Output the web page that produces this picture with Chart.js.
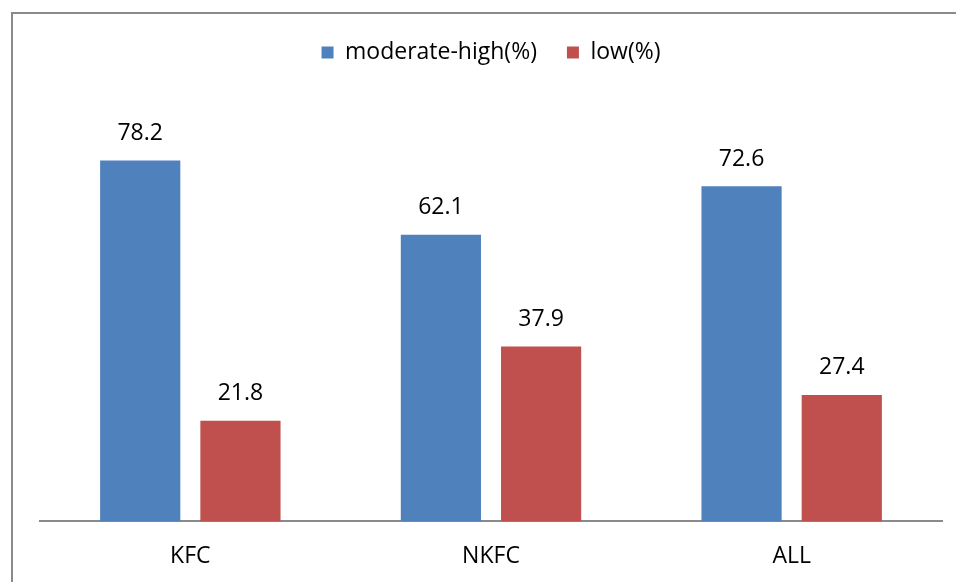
<!DOCTYPE html>
<html>
<head>
<meta charset="utf-8">
<script src="https://cdn.jsdelivr.net/npm/chart.js@4/dist/chart.umd.min.js"></script>
<style>
  html, body { margin: 0; padding: 0; background: #fff; }
  #wrap { position: relative; width: 956px; height: 582px; overflow: hidden; }
  #frame { position: absolute; left: 11px; top: 12px; width: 960px; height: 600px;
           border-left: 2px solid #8a8a8a; border-top: 2px solid #8a8a8a; box-sizing: border-box; }
  canvas { position: absolute; left: 0; top: 0; }
</style>
</head>
<body>
<div id="wrap">
  <div id="frame"></div>
  <canvas id="c" width="956" height="582"></canvas>
</div>
<script>
const categories = ['KFC', 'NKFC', 'ALL'];
const moderateHigh = [78.2, 62.1, 72.6];
const low = [21.8, 37.9, 27.4];

const FONT = "'Open Sans', sans-serif";
const FONT_SIZE = 23;

// Writes each bar's value just above it
const valueLabels = {
  id: 'valueLabels',
  afterDatasetsDraw(chart) {
    const ctx = chart.ctx;
    ctx.save();
    ctx.font = FONT_SIZE + 'px ' + FONT;
    ctx.fillStyle = '#000';
    ctx.textAlign = 'center';
    ctx.textBaseline = 'middle';
    chart.data.datasets.forEach((ds, i) => {
      chart.getDatasetMeta(i).data.forEach((bar, j) => {
        ctx.fillText(ds.data[j].toFixed(1), bar.x, bar.y - 27);
      });
    });
    ctx.restore();
  }
};

// Leaves extra room between the legend and the bars
const legendGap = {
  id: 'legendGap',
  beforeInit(chart) {
    const fit = chart.legend.fit;
    chart.legend.fit = function () {
      fit.call(this);
      this.height += 32;
    };
  }
};

new Chart(document.getElementById('c'), {
  type: 'bar',
  data: {
    labels: categories,
    datasets: [
      { label: 'moderate-high(%)', data: moderateHigh, backgroundColor: '#4F81BD' },
      { label: 'low(%)', data: low, backgroundColor: '#C0504D' }
    ]
  },
  options: {
    responsive: false,
    animation: false,
    layout: { padding: { left: 40, right: 14, top: 11, bottom: -9 } },
    datasets: { bar: { categoryPercentage: 0.6667, barPercentage: 0.8 } },
    plugins: {
      legend: {
        position: 'top',
        labels: {
          font: { family: FONT, size: FONT_SIZE },
          color: '#000',
          boxWidth: 12,
          boxHeight: 12,
          padding: 30
        }
      },
      tooltip: { enabled: false }
    },
    scales: {
      x: {
        grid: { display: false, drawTicks: false },
        border: { color: '#8a8a8a', width: 2 },
        ticks: { font: { family: FONT, size: FONT_SIZE }, color: '#000', padding: 21 }
      },
      y: {
        display: false,
        min: 0,
        max: 90
      }
    }
  },
  plugins: [valueLabels, legendGap]
});
</script>
</body>
</html>
